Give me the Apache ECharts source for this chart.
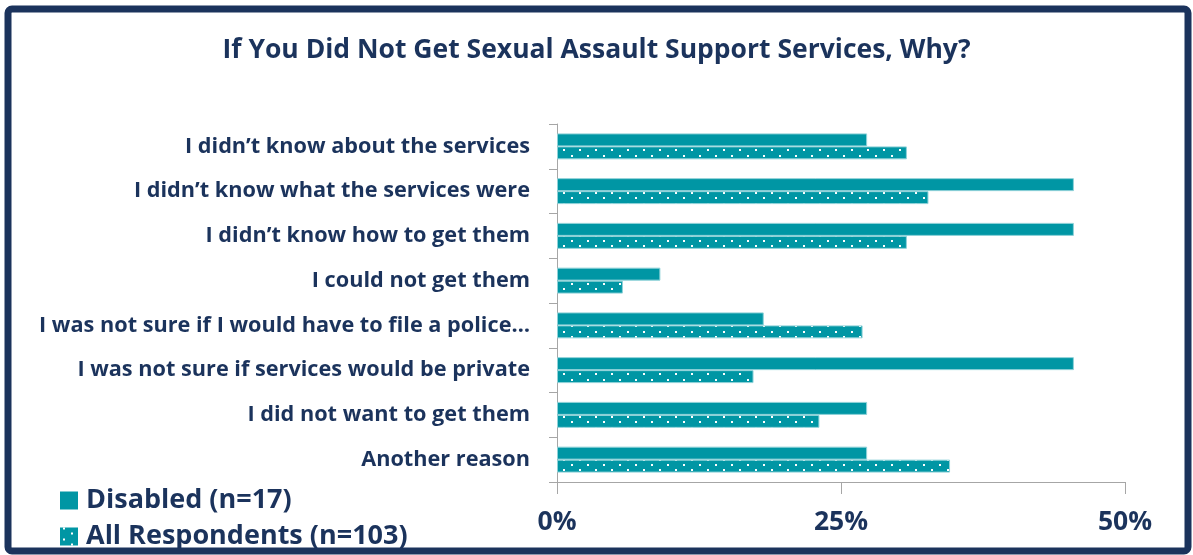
<!DOCTYPE html>
<html>
<head>
<meta charset="utf-8">
<script src="https://cdn.jsdelivr.net/npm/echarts@6/dist/echarts.min.js"></script>
<style>
html,body{margin:0;padding:0;background:#fff;}
#chart{width:1193px;height:555px;}
</style>
</head>
<body>
<div id="chart"></div>
<script>
var titleText = 'If You Did Not Get Sexual Assault Support Services, Why?';
var categories = [
  'I didn\u2019t know about the services',
  'I didn\u2019t know what the services were',
  'I didn\u2019t know how to get them',
  'I could not get them',
  'I was not sure if I would have to file a police\u2026',
  'I was not sure if services would be private',
  'I did not want to get them',
  'Another reason'
];
var seriesNames = ['Disabled (n=17)', 'All Respondents (n=103)'];
var disabledValues = [27.3, 45.5, 45.5, 9.1, 18.2, 45.5, 27.3, 27.3];
var allValues = [30.8, 32.7, 30.8, 5.8, 26.9, 17.3, 23.1, 34.6];
var xTicks = [0, 25, 50];

var navy = '#1b335c';
var teal = '#0096a4';
var font = 'Open Sans';

function makePattern() {
  var c = document.createElement('canvas');
  c.width = 16; c.height = 32;
  var ctx = c.getContext('2d');
  ctx.fillStyle = teal;
  ctx.fillRect(0, 0, 16, 32);
  ctx.fillStyle = '#ffffff';
  var rows = [0, 5, 11, 16, 21, 27];
  for (var i = 0; i < rows.length; i++) {
    ctx.fillRect(i % 2 ? 11 : 3, rows[i], 2, 2);
  }
  return {image: c, repeat: 'repeat'};
}

var chart = echarts.init(document.getElementById('chart'), null, {renderer: 'canvas'});
chart.setOption({
  animation: false,
  backgroundColor: '#ffffff',
  title: {
    text: titleText,
    left: 'center',
    top: 32,
    textStyle: {fontFamily: font, fontWeight: 'bold', fontSize: 26.5, color: navy}
  },
  graphic: [{
    type: 'rect',
    shape: {x: 8, y: 9, width: 1180, height: 542, r: 4},
    style: {fill: 'none', stroke: navy, lineWidth: 7},
    z: 100
  }],
  legend: {
    orient: 'vertical',
    left: 60,
    top: 487,
    height: 68,
    padding: 0,
    itemWidth: 18,
    itemHeight: 18,
    itemGap: 9,
    icon: 'rect',
    itemStyle: {borderWidth: 0},
    textStyle: {fontFamily: font, fontWeight: 'bold', fontSize: 27, color: navy, padding: [0, 0, 0, 3]},
    data: seriesNames
  },
  grid: {left: 557, right: 68, top: 124, bottom: 73, containLabel: false},
  xAxis: {
    type: 'value',
    min: 0,
    max: 50,
    interval: 25,
    axisLine: {show: true, lineStyle: {color: '#a6a6a6', width: 1}},
    axisTick: {show: true, length: 12, lineStyle: {color: '#a6a6a6'}},
    splitLine: {show: false},
    axisLabel: {
      margin: 27,
      fontFamily: font, fontWeight: 'bold', fontSize: 26.5, color: navy,
      formatter: function (v) { return xTicks.indexOf(v) >= 0 ? v + '%' : ''; }
    }
  },
  yAxis: {
    type: 'category',
    inverse: true,
    data: categories,
    axisLine: {show: true, lineStyle: {color: '#a6a6a6', width: 1}},
    axisTick: {show: true, length: 8, lineStyle: {color: '#a6a6a6'}},
    axisLabel: {
      margin: 27,
      fontFamily: font, fontWeight: 'bold', fontSize: 21.7, color: navy
    }
  },
  series: [
    {
      name: seriesNames[0],
      type: 'bar',
      data: disabledValues,
      barGap: '0%',
      barCategoryGap: '42%',
      itemStyle: {color: teal, borderColor: '#8fd2d8', borderWidth: 1}
    },
    {
      name: seriesNames[1],
      type: 'bar',
      data: allValues,
      barGap: '0%',
      barCategoryGap: '42%',
      itemStyle: {color: makePattern(), borderColor: '#8fd2d8', borderWidth: 1}
    }
  ]
});
</script>
</body>
</html>
